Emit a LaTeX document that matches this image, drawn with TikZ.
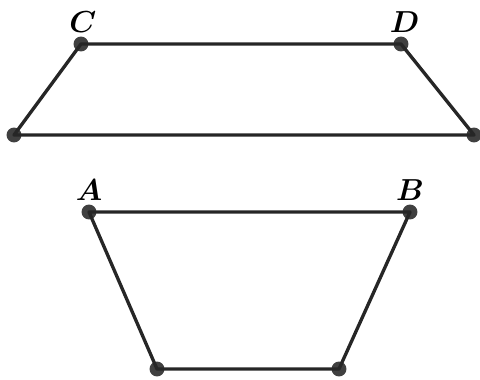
\documentclass[tikz,border=0pt]{standalone}
\usetikzlibrary{positioning}

\begin{document}
\begin{tikzpicture}[
    x=0.02cm, y=-0.02cm,
    side/.style={line width=1.9pt, draw=black!85, line join=round},
    dot/.style={circle, fill=black!75, inner sep=0pt, minimum size=8.5pt},
    vlabel/.style={font=\fontsize{17}{19}\selectfont\boldmath, inner sep=1pt},
]
\useasboundingbox (0,0) rectangle (480,379);

% Upper trapezoid
\node[dot] (C)  at (81,44)   {};
\node[dot] (D)  at (401,44)  {};
\node[dot] (CL) at (14,135)  {};
\node[dot] (DR) at (474,135) {};

% Lower trapezoid
\node[dot] (A)  at (89,212)  {};
\node[dot] (B)  at (410,212) {};
\node[dot] (AL) at (157,369) {};
\node[dot] (BR) at (339,369) {};

% Vertex labels
\node[vlabel, above=1pt of C, xshift=1pt]  (labC) {$C$};
\node[vlabel, above=1pt of D, xshift=2pt]  (labD) {$D$};
\node[vlabel, above=1pt of A]              (labA) {$A$};
\node[vlabel, above=1pt of B]              (labB) {$B$};

% Sides
\draw[side] (C.center) -- (D.center) -- (DR.center) -- (CL.center) -- cycle;
\draw[side] (A.center) -- (B.center) -- (BR.center) -- (AL.center) -- cycle;

\end{tikzpicture}
\end{document}
